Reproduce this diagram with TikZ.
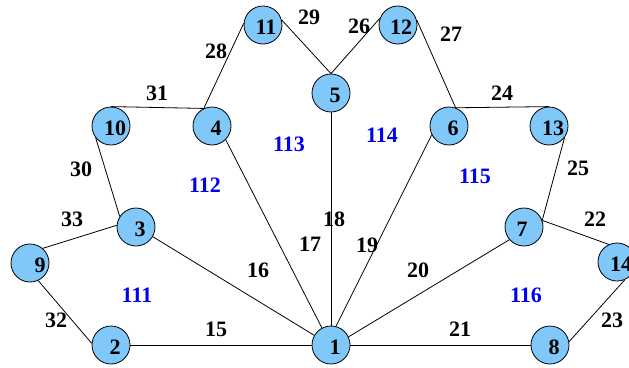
\documentclass[tikz,border=0pt]{standalone}
\usepackage{fontspec}
\setmainfont{Liberation Serif}
\definecolor{nodeblue}{RGB}{128,200,250}
\definecolor{facelabel}{RGB}{0,0,240}
\begin{document}
\begin{tikzpicture}[x=1pt,y=-1pt,
  vert/.style={circle,draw=black,line width=0.8pt,fill=nodeblue,minimum size=38pt,inner sep=0pt},
  vnum/.style={font=\fontsize{22}{22}\selectfont\bfseries,text=black,xshift=4pt,yshift=-2pt,inner sep=0pt},
  elab/.style={font=\fontsize{22}{22}\selectfont\bfseries,text=black,inner sep=0pt},
  flab/.style={font=\fontsize{22}{22}\selectfont\bfseries,text=facelabel,inner sep=0pt},
  edge/.style={draw=black,line width=0.8pt}]
\useasboundingbox (0,0) rectangle (629,367);
\clip (0,0) rectangle (629,367);
\fill[white] (0,0) rectangle (629,367);
% vertices
\node[vert,label={[vnum]center:1}]  (n1)  at (331,345) {};
\node[vert,label={[vnum]center:2}]  (n2)  at (111,345) {};
\node[vert,label={[vnum]center:3}]  (n3)  at (136,227) {};
\node[vert,label={[vnum]center:4}]  (n4)  at (212,126) {};
\node[vert,label={[vnum]center:5}]  (n5)  at (331,93) {};
\node[vert,label={[vnum]center:6}]  (n6)  at (449,126) {};
\node[vert,label={[vnum,xshift=-6pt]center:7}]  (n7)  at (524,227) {};
\node[vert,label={[vnum]center:8}]  (n8)  at (550,345) {};
\node[vert,label={[vnum,xshift=6pt]center:9}]  (n9)  at (30,263) {};
\node[vert,label={[vnum]center:10}] (n10) at (111,126) {};
\node[vert,label={[vnum,xshift=-1pt]center:11}] (n11) at (263,25) {};
\node[vert,label={[vnum,xshift=-1pt]center:12}] (n12) at (398,25) {};
\node[vert,label={[vnum]center:13}] (n13) at (549,126) {};
\node[vert,label={[vnum]center:14}] (n14) at (617,262) {};
% edges
\draw[edge] (n1.east) -- (n8.west);
\draw[edge] (n2.east) -- (n1.west);
\draw[edge] (n3.330) -- (n1.150);
\draw[edge] (n4.315) -- (n1.118);
\draw[edge] (n5.south) -- (n1.north);
\draw[edge] (n6.207) -- (n1.75);
\draw[edge] (n7.221) -- (n1.25);
\draw[edge] (n7.20) -- (n14.115);
\draw[edge] (n14.294) -- (n8.10);
\draw[edge] (n13.323) -- (n7.20);
\draw[edge] (n6.70) -- (n13.90);
\draw[edge] (n12.15) -- (n6.70);
\draw[edge] (n5.90) -- (n12.160);
\draw[edge] (n11.15) -- (n5.90);
\draw[edge] (n4.115) -- (n11.175);
\draw[edge] (n10.90) -- (n4.115);
\draw[edge] (n10.218) -- (n3.147);
\draw[edge] (n9.49) -- (n3.175);
\draw[edge] (n9.295) -- (n2.175);
% edge labels
\node[elab] (l15) at (216,329) {15};
\node[elab] (l16) at (258,270) {16};
\node[elab] (l17) at (310,244) {17};
\node[elab] (l18) at (334,219) {18};
\node[elab] (l19) at (367,245) {19};
\node[elab] (l20) at (418,270) {20};
\node[elab] (l21) at (460,329) {21};
\node[elab] (l22) at (595,219) {22};
\node[elab] (l23) at (612,320) {23};
\node[elab] (l24) at (502,93) {24};
\node[elab] (l25) at (578,168) {25};
\node[elab] (l26) at (359,26) {26};
\node[elab] (l27) at (451,34) {27};
\node[elab] (l28) at (216,51) {28};
\node[elab] (l29) at (309,17) {29};
\node[elab] (l30) at (81,169) {30};
\node[elab] (l31) at (157,93) {31};
\node[elab] (l32) at (56,320) {32};
\node[elab] (l33) at (72,219) {33};
% face labels
\node[flab] (f111) at (137,295) {111};
\node[flab] (f112) at (205,185) {112};
\node[flab] (f113) at (289,144) {113};
\node[flab] (f114) at (382,135) {114};
\node[flab] (f115) at (475,176) {115};
\node[flab] (f116) at (526,295) {116};
\end{tikzpicture}
\end{document}
